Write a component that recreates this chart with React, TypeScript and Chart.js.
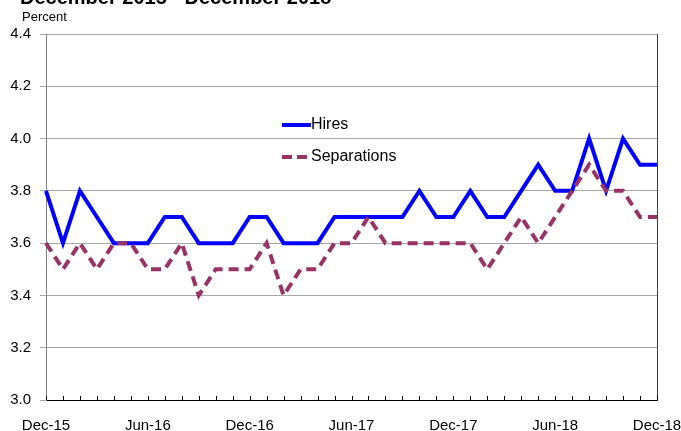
import React, { useEffect, useRef } from "react";
import { Chart, registerables } from "chart.js";

Chart.register(...registerables);

const months: string[] = [
  "Dec-15", "Jan-16", "Feb-16", "Mar-16", "Apr-16", "May-16", "Jun-16", "Jul-16", "Aug-16", "Sep-16", "Oct-16", "Nov-16",
  "Dec-16", "Jan-17", "Feb-17", "Mar-17", "Apr-17", "May-17", "Jun-17", "Jul-17", "Aug-17", "Sep-17", "Oct-17", "Nov-17",
  "Dec-17", "Jan-18", "Feb-18", "Mar-18", "Apr-18", "May-18", "Jun-18", "Jul-18", "Aug-18", "Sep-18", "Oct-18", "Nov-18",
  "Dec-18",
];

const hires: number[] = [
  3.8, 3.6, 3.8, 3.7, 3.6, 3.6, 3.6, 3.7, 3.7, 3.6, 3.6, 3.6,
  3.7, 3.7, 3.6, 3.6, 3.6, 3.7, 3.7, 3.7, 3.7, 3.7, 3.8, 3.7,
  3.7, 3.8, 3.7, 3.7, 3.8, 3.9, 3.8, 3.8, 4.0, 3.8, 4.0, 3.9,
  3.9,
];

const separations: number[] = [
  3.6, 3.5, 3.6, 3.5, 3.6, 3.6, 3.5, 3.5, 3.6, 3.4, 3.5, 3.5,
  3.5, 3.6, 3.4, 3.5, 3.5, 3.6, 3.6, 3.7, 3.6, 3.6, 3.6, 3.6,
  3.6, 3.6, 3.5, 3.6, 3.7, 3.6, 3.7, 3.8, 3.9, 3.8, 3.8, 3.7,
  3.7,
];

const titleText = "December 2015 - December 2018";
const yUnit = "Percent";
const HIRES_COLOR = "#0000FF";
const SEP_COLOR = "#993366";

const decorPlugin = {
  id: "decor",
  afterDatasetsDraw(chart: any) {
    const ctx = chart.ctx;
    const area = chart.chartArea;
    const xs = chart.scales.x;
    ctx.save();
    // right border
    ctx.strokeStyle = "#404040";
    ctx.lineWidth = 1;
    ctx.beginPath();
    ctx.moveTo(Math.round(area.right) + 0.5, area.top);
    ctx.lineTo(Math.round(area.right) + 0.5, area.bottom);
    ctx.stroke();
    // x minor ticks (inward)
    ctx.strokeStyle = "#000000";
    for (let i = 0; i < months.length; i++) {
      const px = Math.round(xs.getPixelForValue(i)) + 0.5;
      ctx.beginPath();
      ctx.moveTo(px, area.bottom);
      ctx.lineTo(px, area.bottom - 4);
      ctx.stroke();
    }
    // legend
    const lx = 282;
    const ly1 = 125;
    const ly2 = 157;
    ctx.lineWidth = 4;
    ctx.strokeStyle = HIRES_COLOR;
    ctx.setLineDash([]);
    ctx.beginPath();
    ctx.moveTo(lx, ly1);
    ctx.lineTo(lx + 29, ly1);
    ctx.stroke();
    ctx.strokeStyle = SEP_COLOR;
    ctx.setLineDash([10, 5]);
    ctx.beginPath();
    ctx.moveTo(lx, ly2);
    ctx.lineTo(lx + 29, ly2);
    ctx.stroke();
    ctx.setLineDash([]);
    ctx.fillStyle = "#000000";
    ctx.font = "16px 'Liberation Sans', Arial, sans-serif";
    ctx.textBaseline = "middle";
    ctx.textAlign = "left";
    ctx.fillText("Hires", lx + 29, ly1);
    ctx.fillText("Separations", lx + 29, ly2);
    // title (cut at top) and unit
    ctx.font = "bold 20px 'Liberation Sans', Arial, sans-serif";
    ctx.textBaseline = "alphabetic";
    ctx.fillText(titleText, 20, 4);
    ctx.font = "13px 'Liberation Sans', Arial, sans-serif";
    ctx.fillText(yUnit, 22, 21);
    ctx.restore();
  },
};

export default function App() {
  const ref = useRef<HTMLCanvasElement | null>(null);
  useEffect(() => {
    if (!ref.current) return;
    const chart = new Chart(ref.current, {
      type: "line",
      data: {
        labels: months,
        datasets: [
          {
            label: "Hires",
            data: hires,
            borderColor: HIRES_COLOR,
            backgroundColor: HIRES_COLOR,
            borderWidth: 4,
            pointRadius: 0,
            tension: 0,
            order: 2,
          },
          {
            label: "Separations",
            data: separations,
            borderColor: SEP_COLOR,
            backgroundColor: SEP_COLOR,
            borderWidth: 4,
            borderDash: [10, 6],
            pointRadius: 0,
            tension: 0,
            order: 1,
          },
        ],
      },
      options: {
        responsive: false,
        animation: false,
        layout: { padding: { top: 34, right: 24, left: 0, bottom: 0 } },
        plugins: {
          legend: { display: false },
          title: { display: false },
          tooltip: { enabled: false },
        },
        scales: {
          x: {
            type: "category",
            offset: false,
            afterFit(scale: any) {
              scale.height = 31;
              scale.paddingRight = 0;
              scale.paddingLeft = 0;
            },
            grid: { display: true, drawOnChartArea: false, drawTicks: false },
            border: { display: true, color: "#000000", width: 1 },
            ticks: {
              autoSkip: false,
              maxRotation: 0,
              padding: 17,
              color: "#000000",
              font: { family: "'Liberation Sans', Arial, sans-serif", size: 15 },
              callback: (_v: any, i: number) => (i % 6 === 0 ? months[i] : ""),
            },
          },
          y: {
            min: 3.0,
            max: 4.4,
            afterFit(scale: any) {
              scale.width = 46;
              scale.paddingTop = 0;
              scale.paddingBottom = 0;
            },
            grid: { color: "#a6a6a6", lineWidth: 1, tickLength: 6, drawTicks: true },
            border: { display: true, color: "#808080", width: 1 },
            ticks: {
              stepSize: 0.2,
              padding: 9,
              color: "#000000",
              font: { family: "'Liberation Sans', Arial, sans-serif", size: 15 },
              callback: (v: any) => Number(v).toFixed(1),
            },
          },
        },
      },
      plugins: [decorPlugin],
    } as any);
    return () => chart.destroy();
  }, []);
  return (
    <div style={{ position: "fixed", left: 0, top: 0, width: 681, height: 431, background: "#ffffff" }}>
      <canvas ref={ref} width={681} height={431} style={{ display: "block" }} />
    </div>
  );
}
